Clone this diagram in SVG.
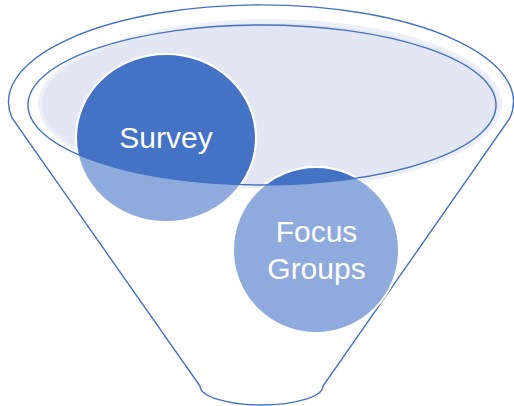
<svg xmlns="http://www.w3.org/2000/svg" width="514" height="406" viewBox="0 0 514 406">
  <style>
    .outline { fill: none; stroke: #4472C4; stroke-width: 1.4; }
    .light { fill: #8FAADC; stroke: #FFFFFF; stroke-width: 2; }
    .dark { fill: #4472C4; stroke: #FFFFFF; stroke-width: 2; }
    .label { fill: #FFFFFF; font-family: "Liberation Sans", Arial, sans-serif; font-size: 30px; text-anchor: middle; }
  </style>
  <defs>
    <clipPath id="topClip">
      <ellipse cx="262" cy="105" rx="234" ry="80"/>
    </clipPath>
  </defs>
  <g id="funnel">
    <path class="outline" d="M 12,118 A 252.5 97 0 1 1 510,118 L 323,386 A 61.5 19 0 0 1 200,386 Z"/>
    <ellipse cx="270" cy="104" rx="232" ry="85" fill="#EDF0F8"/>
    <ellipse cx="270" cy="104" rx="228" ry="81" fill="#E3E7F3"/>
  </g>
  <g id="survey">
    <ellipse class="light" cx="166" cy="138" rx="90" ry="84"/>
    <ellipse class="dark" cx="166" cy="138" rx="90" ry="84" clip-path="url(#topClip)"/>
    <text class="label" x="166" y="148">Survey</text>
  </g>
  <g id="focus-groups">
    <circle class="light" cx="316" cy="250" r="83"/>
    <circle class="dark" cx="316" cy="250" r="83" clip-path="url(#topClip)"/>
    <text class="label" x="316.5" y="242">Focus</text>
    <text class="label" x="316.5" y="279">Groups</text>
  </g>
  <g id="funnel-rim">
    <ellipse class="outline" cx="262" cy="105" rx="234" ry="80"/>
  </g>
</svg>
